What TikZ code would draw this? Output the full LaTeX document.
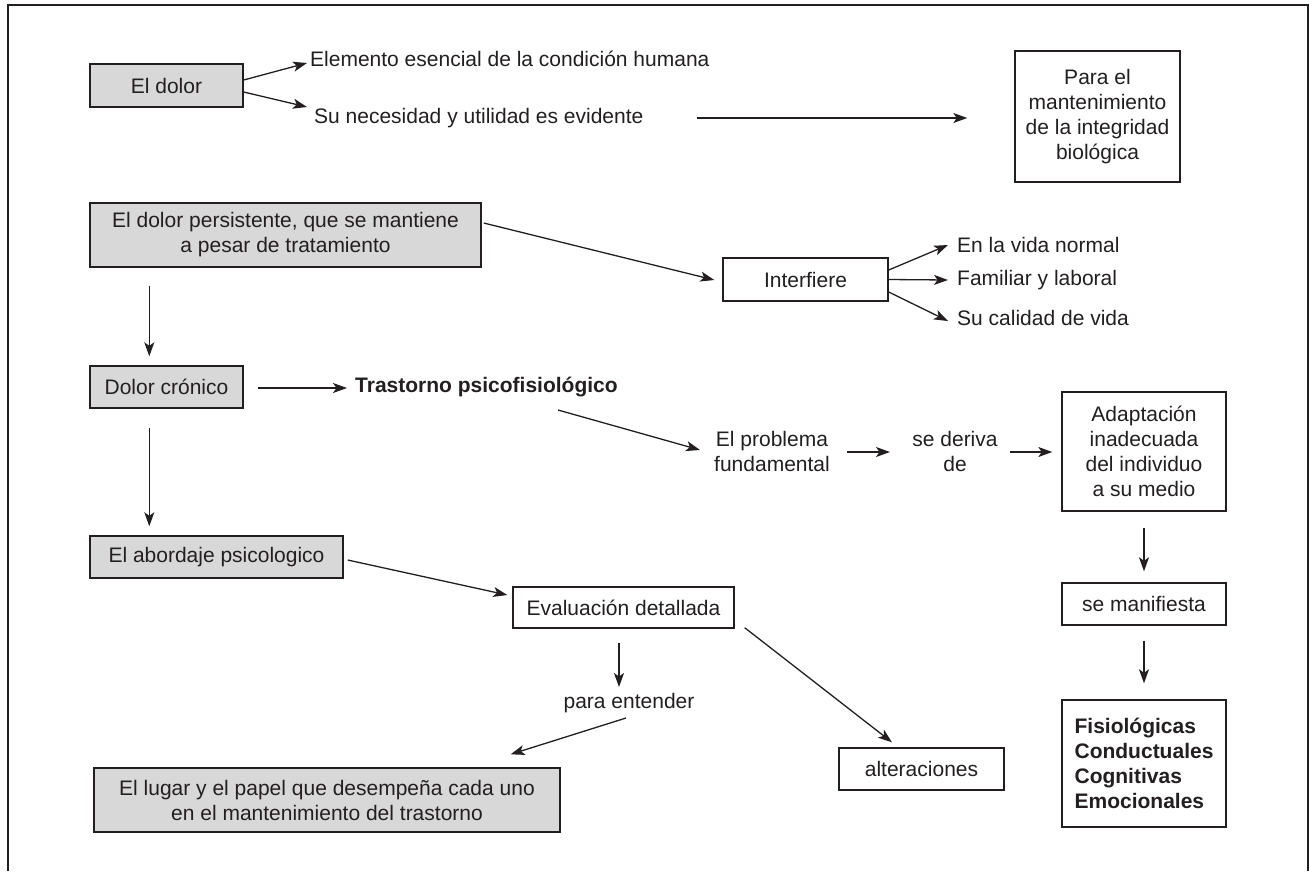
\documentclass[tikz,border=0pt]{standalone}
\usepackage{fontspec}
\setmainfont{Liberation Sans}
\usetikzlibrary{arrows.meta,calc}
\definecolor{ink}{RGB}{35,31,32}
\definecolor{boxgray}{RGB}{216,216,217}
\tikzset{
  base/.style={font=\fontsize{21}{25}\selectfont, text=ink},
  plainbox/.style={base, draw=ink, line width=1.4pt, fill=white, align=center, inner sep=0pt},
  graybox/.style={plainbox, fill=boxgray},
  label/.style={base, inner sep=0pt, align=center},
  boldlist/.style={font=\fontsize{21}{25}\selectfont\bfseries, align=left},
  arr/.style={draw=ink, line width=1.3pt, -{Stealth[length=14pt,width=10pt,inset=3.5pt]}},
  frame/.style={draw=ink, line width=1.5pt}
}
\begin{document}
\begin{tikzpicture}[x=1pt,y=-1pt]
\useasboundingbox (0,0) rectangle (1309,871);
\draw[frame] (8,871) -- (8,5) -- (1308,5) -- (1308,871);

% --- first block
\node[graybox, minimum width=153, minimum height=43] (dolor) at (166.5,85.5) {El dolor};
\node[label, anchor=west] (elem) at (310,59) {Elemento esencial de la condición humana};
\node[label, anchor=west] (nece) at (314,118) {Su necesidad y utilidad es evidente};
\node[plainbox, minimum width=165, minimum height=131] (para) at (1097.5,116.5)
  {Para el\\mantenimiento\\de la integridad\\biológica};

% --- persistent pain
\node[graybox, minimum width=391, minimum height=64] (persist) at (285.5,235)
  {El dolor persistente, que se mantiene\\a pesar de tratamiento};
\node[plainbox, minimum width=165, minimum height=43] (interf) at (805.5,279.5) {Interfiere};
\node[label, anchor=west] (vida) at (957,245) {En la vida normal};
\node[label, anchor=west] (famil) at (957,280) {Familiar y laboral};
\node[label, anchor=west] (calid) at (957,318) {Su calidad de vida};

% --- chronic pain
\node[graybox, minimum width=153, minimum height=42] (cronico) at (166.5,387) {Dolor crónico};
\node[label, anchor=west] (trast) at (355,387) {\bfseries Trastorno psicofisiológico};
\node[label] (problema) at (772,451) {El problema\\fundamental};
\node[label] (deriva) at (955,451) {se deriva\\de};
\node[plainbox, minimum width=164, minimum height=119] (adapt) at (1144,451.5)
  {Adaptación\\inadecuada\\del individuo\\a su medio};
\node[plainbox, minimum width=164, minimum height=42] (manif) at (1144,604) {se manifiesta};
\node[plainbox, boldlist, minimum width=164, minimum height=127] (fisio) at (1144,763.5)
  {Fisiológicas\\Conductuales\\Cognitivas\\Emocionales};

% --- psychological approach
\node[graybox, minimum width=253, minimum height=42] (abord) at (216.5,557) {El abordaje psicologico};
\node[plainbox, minimum width=221, minimum height=41] (evalua) at (623.5,607.5) {Evaluación detallada};
\node[label] (entender) at (629,703) {para entender};
\node[graybox, minimum width=466, minimum height=64] (lugar) at (327,800)
  {El lugar y el papel que desempeña cada uno\\en el mantenimiento del trastorno};
\node[plainbox, minimum width=165, minimum height=42] (alter) at (921.5,769) {alteraciones};

% --- connectors
\draw[arr] ($(dolor.east)+(0,-5.5)$) -- ($(elem.west)+(-3,4)$);
\draw[arr] ($(dolor.east)+(0,6.5)$) -- ($(nece.west)+(-7,-11)$);
\draw[arr] ($(nece.east)+(53,0)$) -- ($(para.west)+(-47,1.5)$);

\draw[arr] ($(persist.east)+(2,-12)$) -- ($(interf.west)+(-8,0.5)$);
\draw[arr] ($(interf.east)+(0,-9.5)$) -- ($(vida.west)+(-9,0)$);
\draw[arr] (interf.east) -- ($(famil.west)+(-9,0)$);
\draw[arr] ($(interf.east)+(0,12.5)$) -- ($(calid.west)+(-9,3)$);
\draw[arr] ($(persist.south west)+(60,18)$) -- ($(cronico.north west)+(60,-9)$);

\draw[arr] ($(cronico.east)+(14,1)$) -- ($(trast.west)+(-8,1)$);
\draw[arr] ($(trast.west)+(203,23)$) -- ($(problema.center)+(-72,-1)$);
\draw[arr] ($(problema.center)+(75,1)$) -- ($(deriva.center)+(-65,1)$);
\draw[arr] ($(deriva.center)+(55,1)$) -- ($(adapt.west)+(-9,0.5)$);
\draw[arr] ($(adapt.south)+(0,16)$) -- ($(manif.north)+(0,-11)$);
\draw[arr] ($(manif.south)+(0,15)$) -- ($(fisio.north)+(0,-16)$);

\draw[arr] ($(cronico.south west)+(60,19)$) -- ($(abord.north west)+(60,-9)$);
\draw[arr] ($(abord.east)+(4,3)$) -- ($(evalua.west)+(-5,-12.5)$);
\draw[arr] ($(evalua.south)+(-4.5,14)$) -- ($(entender.center)+(-10,-16)$);
\draw[arr] ($(entender.center)+(-3,15)$) -- ($(lugar.north east)+(-50,-13)$);
\draw[arr] ($(evalua.south east)+(10,-1)$) -- ($(alter.north)+(-29.5,-5)$);
\end{tikzpicture}
\end{document}
